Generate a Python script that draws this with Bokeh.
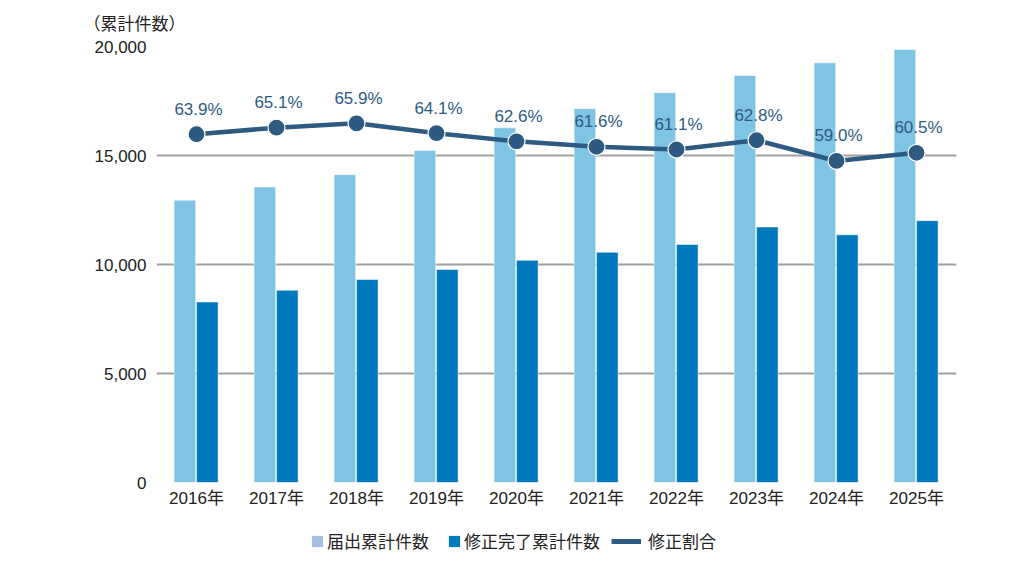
from bokeh.plotting import figure
from bokeh.layouts import column
from bokeh.models import (ColumnDataSource, FactorRange, Range1d, Legend, LegendItem,
                          FixedTicker, Title, NumeralTickFormatter)
from bokeh.transform import dodge
from bokeh.embed import file_html
from bokeh.resources import INLINE
from bokeh.core.properties import value

years = ["2016年", "2017年", "2018年", "2019年", "2020年",
         "2021年", "2022年", "2023年", "2024年", "2025年"]
filed_total = [12950, 13560, 14120, 15230, 16270, 17150, 17880, 18670, 19250, 19860]
fixed_total = [8280, 8820, 9310, 9770, 10190, 10560, 10920, 11720, 11360, 12010]
fix_ratio = [63.9, 65.1, 65.9, 64.1, 62.6, 61.6, 61.1, 62.8, 59.0, 60.5]
y_ticks = [0, 5000, 10000, 15000, 20000]
series_names = ["届出累計件数", "修正完了累計件数", "修正割合"]

FONT = "Liberation Sans, Noto Sans CJK JP"
LIGHT = "#7fc4e3"
DARK = "#0079bd"
SWATCH = "#a4bfe0"
LINE = "#2d5a80"
TXT = "#222222"

src = ColumnDataSource(dict(
    year=years, filed=filed_total, fixed=fixed_total, ratio=fix_ratio,
    label=[f"{r:.1f}%" for r in fix_ratio],
))

p = figure(x_range=FactorRange(*years, range_padding=0),
           y_range=Range1d(0, 20000),
           width=1010, height=516,
           output_backend="svg", toolbar_location=None,
           min_border_left=156, min_border_right=54,
           min_border_top=46, min_border_bottom=34)
p.extra_y_ranges = {"pct": Range1d(0, 80)}
p.outline_line_color = None
p.background_fill_color = "white"

# grid
p.xgrid.grid_line_color = None
p.ygrid.ticker = FixedTicker(ticks=y_ticks)
p.ygrid.grid_line_color = "#a0a0a0"
p.ygrid.grid_line_width = 2

# axes
p.yaxis.ticker = FixedTicker(ticks=y_ticks)
p.yaxis.formatter = NumeralTickFormatter(format="0,0")
for ax in (p.xaxis[0], p.yaxis[0]):
    ax.axis_line_color = None
    ax.major_tick_line_color = None
    ax.minor_tick_line_color = None
    ax.major_tick_out = 0
    ax.major_tick_in = 0
    ax.major_label_text_font = FONT
    ax.major_label_text_font_size = "17px"
    ax.major_label_text_color = TXT
p.yaxis.major_label_standoff = 10
p.xaxis.major_label_standoff = 6

# bars
p.vbar(x=dodge("year", -0.145, range=p.x_range), top="filed", width=0.27,
       source=src, fill_color=LIGHT, line_color="white", line_alpha=0.5, line_width=1)
p.vbar(x=dodge("year", 0.135, range=p.x_range), top="fixed", width=0.27,
       source=src, fill_color=DARK, line_color="white", line_alpha=0.5, line_width=1)

# ratio line (secondary hidden scale 0-80%)
p.line(x="year", y="ratio", source=src, y_range_name="pct",
       line_color=LINE, line_width=4.5)
p.scatter(x="year", y="ratio", source=src, y_range_name="pct", size=17,
          fill_color=LINE, line_color="white", line_width=1.2)
p.text(x="year", y="ratio", text="label", source=src, y_range_name="pct",
       text_align="center", text_baseline="middle", x_offset=2, y_offset=-25,
       text_font=value(FONT), text_font_size="17px", text_color="#2f5b82")

# y-axis title
p.add_layout(Title(text="（累計件数）", align="left", offset=-73, standoff=25,
                   text_font=FONT, text_font_size="17px", text_font_style="normal",
                   text_color=TXT), "above")

# legend strip below the chart (its frame is aligned with the chart frame)
lg = figure(width=1010, height=50, x_range=Range1d(0, 1), y_range=Range1d(0, 1),
            output_backend="svg", toolbar_location=None,
            min_border_left=0, min_border_right=0, min_border_top=0, min_border_bottom=0)
lg.axis.visible = False
lg.grid.grid_line_color = None
lg.outline_line_color = None
# legend-only renderers: single point outside the visible range
g1 = lg.vbar(x=[-10], top=[0], width=0.1, fill_color=SWATCH, line_color=None)
g2 = lg.vbar(x=[-10], top=[0], width=0.1, fill_color=DARK, line_color=None)
g3 = lg.line(x=[-10, -9], y=[0, 0], line_color=LINE, line_width=5)

common = dict(orientation="horizontal", spacing=18, padding=0, margin=0,
              border_line_color=None, background_fill_alpha=0,
              label_text_font=FONT, label_text_font_size="17px", label_text_color=TXT)
leg1 = Legend(items=[LegendItem(label=series_names[0], renderers=[g1]),
                     LegendItem(label=series_names[1], renderers=[g2])],
              location=(154, 13), glyph_width=14, glyph_height=14, label_standoff=3,
              **common)
leg2 = Legend(items=[LegendItem(label=series_names[2], renderers=[g3])],
              location=(455, 13), glyph_width=30, glyph_height=14, label_standoff=7,
              **common)
lg.add_layout(leg1, "center")
lg.add_layout(leg2, "center")

layout = column(p, lg, spacing=0)
open("out.html", "w").write(file_html(layout, INLINE))
